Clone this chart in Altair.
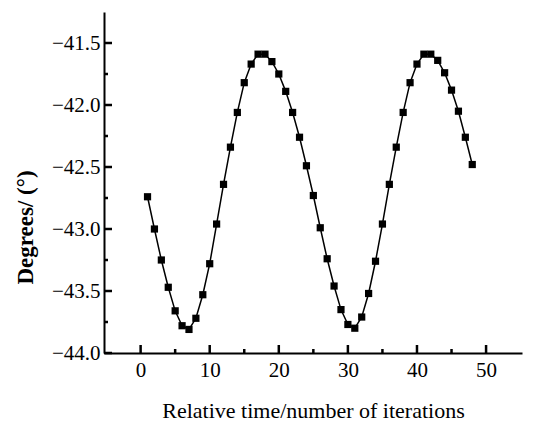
import altair as alt
import pandas as pd

iterations = list(range(1, 49))
degrees = [-42.74, -43.00, -43.25, -43.47, -43.66, -43.78, -43.81, -43.72, -43.53, -43.28,
           -42.96, -42.64, -42.34, -42.06, -41.82, -41.67, -41.59, -41.59, -41.65, -41.75,
           -41.89, -42.06, -42.26, -42.49, -42.73, -42.99, -43.24, -43.46, -43.65, -43.77,
           -43.80, -43.71, -43.52, -43.26, -42.96, -42.64, -42.34, -42.06, -41.82, -41.67,
           -41.59, -41.59, -41.64, -41.74, -41.88, -42.05, -42.26, -42.48]

x_major = [0, 10, 20, 30, 40, 50]
x_minor = [5, 15, 25, 35, 45]
y_major = [-44.0, -43.5, -43.0, -42.5, -42.0, -41.5]
y_minor = [-43.75, -43.25, -42.75, -42.25, -41.75]

FONT = "Liberation Serif"
W, H = 418, 341

df = pd.DataFrame({"x": iterations, "y": degrees})

xscale = alt.Scale(domain=[-5.3, 55.2], nice=False, zero=False)
yscale = alt.Scale(domain=[-44.0, -41.25], nice=False, zero=False)

xaxis = alt.Axis(values=x_major, title="Relative time/number of iterations", ticks=False, tickSize=0,
                 grid=False, labelFont=FONT, labelFontSize=21, labelColor="black",
                 labelPadding=6, domainColor="black", domainWidth=2,
                 titleFont=FONT, titleFontSize=22, titleFontWeight="normal", titleColor="black",
                 titleY=64, titleBaseline="alphabetic")
yaxis = alt.Axis(values=y_major, format=".1f", title="Degrees/ (°)", ticks=False, tickSize=0,
                 grid=False, labelFont=FONT, labelFontSize=21, labelColor="black",
                 labelPadding=4, domainColor="black", domainWidth=2,
                 titleFont=FONT, titleFontSize=23, titleFontWeight="bold", titleColor="black",
                 titleX=-79, titleY=215, titleAngle=-90, titleAlign="center",
                 titleBaseline="middle")

base = alt.Chart(df)

line = base.mark_line(color="black", strokeWidth=1.5).encode(
    x=alt.X("x:Q", scale=xscale, axis=xaxis),
    y=alt.Y("y:Q", scale=yscale, axis=yaxis),
)
points = base.mark_point(shape="square", filled=True, color="black", size=52, opacity=1).encode(
    x=alt.X("x:Q", scale=xscale),
    y=alt.Y("y:Q", scale=yscale),
)

xmaj = alt.Chart(pd.DataFrame({"x": x_major})).mark_rule(color="black", strokeWidth=2.5).encode(
    x=alt.X("x:Q", scale=xscale), y=alt.value(H), y2=alt.value(H - 8))
xmin = alt.Chart(pd.DataFrame({"x": x_minor})).mark_rule(color="black", strokeWidth=2.5).encode(
    x=alt.X("x:Q", scale=xscale), y=alt.value(H), y2=alt.value(H - 4))
ymaj = alt.Chart(pd.DataFrame({"y": y_major})).mark_rule(color="black", strokeWidth=2.5).encode(
    y=alt.Y("y:Q", scale=yscale), x=alt.value(0), x2=alt.value(8))
ymin = alt.Chart(pd.DataFrame({"y": y_minor})).mark_rule(color="black", strokeWidth=2.5).encode(
    y=alt.Y("y:Q", scale=yscale), x=alt.value(0), x2=alt.value(4))

chart = alt.layer(line, points, xmaj, xmin, ymaj, ymin).properties(
    width=W, height=H,
    autosize=alt.AutoSizeParams(type="none"),
    padding={"left": 96, "top": 4, "right": 3, "bottom": 70},
    background="white",
).configure_view(stroke=None)

chart.save("out.html", embed_options={"renderer": "svg", "actions": False})
